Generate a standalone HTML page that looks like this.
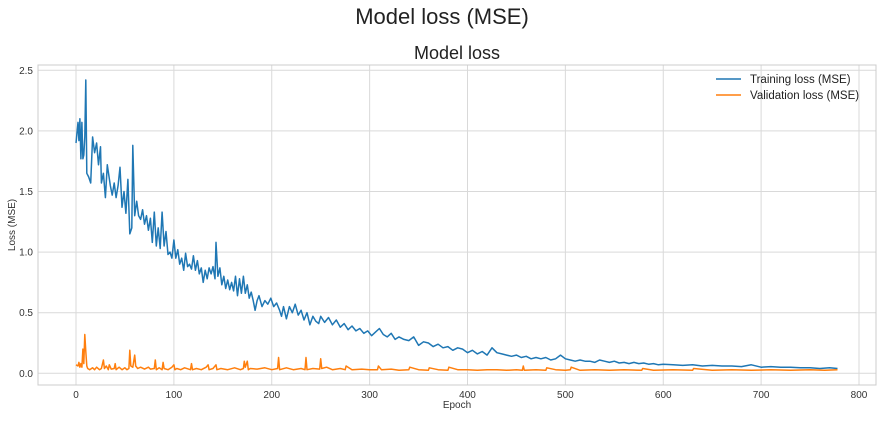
<!DOCTYPE html>
<html><head><meta charset="utf-8"><style>
body{margin:0;background:#fff;font-family:"Liberation Sans",sans-serif;}
svg text{font-family:"Liberation Sans",sans-serif;}
</style></head><body>
<svg id="chart" width="881" height="417" xmlns="http://www.w3.org/2000/svg">
<text x="442" y="24" font-size="22" text-anchor="middle" fill="#222">Model loss (MSE)</text>
<text x="457" y="59" font-size="18" text-anchor="middle" fill="#222">Model loss</text>
<g id="grid"></g>
<rect x="38" y="65" width="838" height="320" fill="none" stroke="#cccccc" stroke-width="1"/>
<g id="ticks"></g>
<g id="series"></g>
<text x="457" y="408" font-size="10" text-anchor="middle" fill="#333">Epoch</text>
<text transform="translate(15,225) rotate(-90)" font-size="10" text-anchor="middle" fill="#333">Loss (MSE)</text>
<g>
<line x1="716" y1="79" x2="741" y2="79" stroke="#1f77b4" stroke-width="1.5"/>
<text x="750" y="83" font-size="11.5" fill="#222">Training loss (MSE)</text>
<line x1="716" y1="95" x2="741" y2="95" stroke="#ff7f0e" stroke-width="1.5"/>
<text x="750" y="99" font-size="11.5" fill="#222">Validation loss (MSE)</text>
</g>
</svg>
<script>
const xTicks=[0,100,200,300,400,500,600,700,800];
const yTicks=[0,0.5,1.0,1.5,2.0,2.5];
const yTickLabels=["0.0","0.5","1.0","1.5","2.0","2.5"];
const trainEpochs=[0,2,3,4,5,6,7,8,9,10,11,13,15,17,19,21,23,25,26,28,30,32,35,37,39,41,43,45,47,49,51,53,55,57,58,60,62,64,66,68,70,72,74,76,78,80,82,84,86,88,90,92,94,96,98,100,102,104,106,108,110,112,114,116,118,120,122,124,126,128,130,132,134,136,138,140,142,143,145,147,149,151,153,155,157,159,161,163,165,167,169,171,173,175,177,179,181,183,185,187,190,193,196,199,202,205,208,210,212,215,218,221,224,227,230,233,236,239,242,245,248,250,254,258,262,266,270,274,278,282,286,290,294,298,302,306,310,314,318,322,326,330,335,340,345,350,355,360,365,370,375,380,385,390,395,400,405,410,415,420,425,430,435,440,445,450,455,460,465,470,475,480,485,490,495,500,505,510,515,520,525,530,535,540,545,550,555,560,565,570,575,580,585,590,595,600,610,620,630,640,650,660,670,680,690,700,710,720,730,740,750,760,770,778];
const trainLoss=[1.9,2.07,1.92,2.1,1.77,2.07,1.77,1.8,1.95,2.42,1.65,1.62,1.57,1.95,1.82,1.9,1.72,1.87,1.57,1.65,1.45,1.72,1.55,1.47,1.57,1.45,1.55,1.70,1.37,1.50,1.32,1.60,1.15,1.2,1.88,1.30,1.42,1.3,1.27,1.35,1.23,1.30,1.18,1.28,1.08,1.33,1.05,1.2,1.03,1.33,1.05,1.17,0.98,1.0,0.95,1.1,0.95,1.02,0.90,0.95,0.85,0.99,0.88,0.9,0.86,0.97,0.85,0.93,0.82,0.87,0.75,0.85,0.78,0.87,0.82,0.88,0.78,1.08,0.8,0.87,0.73,0.8,0.7,0.77,0.69,0.75,0.68,0.8,0.64,0.78,0.66,0.8,0.66,0.73,0.62,0.67,0.6,0.52,0.6,0.64,0.55,0.6,0.57,0.62,0.55,0.58,0.52,0.47,0.55,0.45,0.55,0.5,0.57,0.48,0.52,0.44,0.50,0.40,0.47,0.43,0.41,0.47,0.42,0.46,0.40,0.44,0.38,0.41,0.36,0.39,0.35,0.37,0.33,0.35,0.31,0.34,0.37,0.32,0.30,0.33,0.28,0.30,0.28,0.27,0.30,0.23,0.26,0.25,0.22,0.24,0.21,0.22,0.19,0.21,0.20,0.17,0.19,0.16,0.18,0.15,0.21,0.17,0.16,0.15,0.14,0.15,0.13,0.14,0.12,0.13,0.12,0.13,0.11,0.12,0.15,0.12,0.11,0.10,0.11,0.10,0.10,0.09,0.11,0.10,0.09,0.10,0.085,0.09,0.08,0.09,0.08,0.085,0.075,0.08,0.07,0.075,0.07,0.065,0.07,0.06,0.065,0.06,0.06,0.055,0.07,0.05,0.055,0.05,0.05,0.045,0.045,0.04,0.045,0.04,0.045,0.05];
const valEpochs=[0,2,3,4,5,6,7,8,9,10,11,12,14,17,19,21,24,26,28,29,31,33,34,36,39,40,41,44,47,50,52,54,55,56,58,60,61,63,66,70,74,76,80,81,82,85,88,89,90,94,98,100,101,103,107,111,117,118,119,123,128,133,135,136,140,143,144,148,155,162,168,171,172,173,175,176,178,185,193,200,206,207,208,215,222,230,234,235,236,242,249,250,251,256,262,270,275,276,282,292,300,308,309,312,322,330,340,341,350,360,361,370,380,381,390,400,410,420,430,440,450,456,457,458,470,480,481,490,500,505,506,515,530,545,560,578,579,590,610,630,631,650,670,690,710,730,750,765,778];
const valLoss=[0.07,0.06,0.09,0.05,0.08,0.05,0.2,0.08,0.32,0.18,0.06,0.04,0.03,0.045,0.03,0.05,0.03,0.04,0.11,0.04,0.06,0.03,0.07,0.035,0.04,0.08,0.03,0.05,0.03,0.045,0.03,0.04,0.19,0.06,0.05,0.15,0.06,0.04,0.05,0.035,0.05,0.035,0.04,0.11,0.03,0.045,0.03,0.09,0.04,0.03,0.05,0.07,0.03,0.04,0.03,0.045,0.03,0.08,0.03,0.04,0.03,0.05,0.07,0.03,0.04,0.07,0.03,0.04,0.03,0.045,0.03,0.04,0.1,0.05,0.1,0.03,0.04,0.035,0.045,0.03,0.04,0.13,0.03,0.045,0.03,0.04,0.03,0.13,0.03,0.04,0.035,0.12,0.04,0.05,0.03,0.04,0.03,0.06,0.03,0.035,0.03,0.03,0.06,0.03,0.035,0.025,0.03,0.05,0.03,0.025,0.045,0.03,0.025,0.05,0.03,0.03,0.025,0.03,0.03,0.025,0.03,0.025,0.06,0.025,0.03,0.025,0.045,0.03,0.025,0.03,0.05,0.025,0.03,0.025,0.03,0.025,0.04,0.025,0.03,0.025,0.04,0.025,0.03,0.025,0.03,0.025,0.03,0.025,0.03];
const NS="http://www.w3.org/2000/svg";
const X=v=>76+v*(783/800);
const Y=v=>373.3-v*121.2;
function mk(t,a,p){const e=document.createElementNS(NS,t);for(const k in a)e.setAttribute(k,a[k]);p.appendChild(e);return e;}
const grid=document.getElementById('grid'),ticks=document.getElementById('ticks'),series=document.getElementById('series');
xTicks.forEach(v=>{
  const l=mk('line',{x1:X(v),x2:X(v),y1:65,y2:385,stroke:'#d9d9d9','stroke-width':1},grid);
  
  
  const t=mk('text',{x:X(v),y:398,'font-size':10,'text-anchor':'middle',fill:'#333'},ticks);
  t.textContent=v;
  
  
});
yTicks.forEach((v,i)=>{
  const l=mk('line',{x1:38,x2:876,y1:Y(v),y2:Y(v),stroke:'#d9d9d9','stroke-width':1},grid);
  
  
  const t=mk('text',{x:33,y:Y(v)+3.5,'font-size':10,'text-anchor':'end',fill:'#333'},ticks);
  t.textContent=yTickLabels[i];
  
  
});
function line(xs,ys){return xs.map((x,i)=>(i?'L':'M')+X(x).toFixed(1)+','+Y(ys[i]).toFixed(1)).join('');}
const pt=mk('path',{d:line(trainEpochs,trainLoss),fill:'none',stroke:'#1f77b4','stroke-width':1.5,'stroke-linejoin':'round'},series);


const pv=mk('path',{d:line(valEpochs,valLoss),fill:'none',stroke:'#ff7f0e','stroke-width':1.5,'stroke-linejoin':'round'},series);


</script>
</body></html>
